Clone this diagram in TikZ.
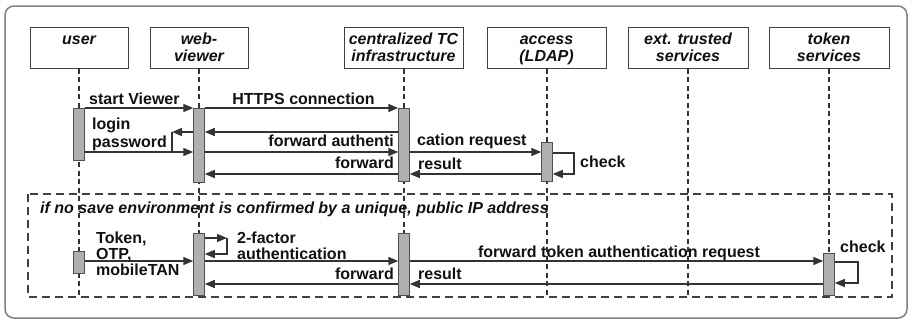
\documentclass[tikz,border=0pt]{standalone}
\usepackage{fontspec}
\setmainfont{Liberation Sans}
\usetikzlibrary{arrows.meta}
\definecolor{txt}{HTML}{111111}
\definecolor{hdrline}{HTML}{404040}
\definecolor{lifec}{HTML}{333333}
\definecolor{barline}{HTML}{505050}
\definecolor{barfill}{HTML}{B0B0B0}
\definecolor{msgc}{HTML}{333333}
\definecolor{framec}{HTML}{808080}
\begin{document}
\begin{tikzpicture}[x=1pt,y=-1pt,
  lbl/.style={font=\fontsize{16}{17}\selectfont\bfseries, text=txt, inner sep=0pt},
  hdr/.style={draw=hdrline, line width=1pt, minimum height=41pt, inner sep=0pt, fill=white},
  htxt/.style={font=\fontsize{16}{17}\selectfont\bfseries\itshape, text=txt, align=center, inner sep=0pt, anchor=north},
  life/.style={draw=lifec, line width=1.2pt, dash pattern=on 5pt off 3.5pt},
  bar/.style={draw=barline, fill=barfill, line width=1pt, minimum width=10.5pt, inner sep=0pt},
  msg/.style={draw=msgc, line width=1.5pt, -{Triangle[length=10pt,width=8pt]}},
  seg/.style={draw=msgc, line width=1.5pt},
  framedash/.style={draw=hdrline, line width=1.5pt, dash pattern=on 8pt off 5pt},
]
\useasboundingbox (0,0) rectangle (912,322);
\draw[draw=framec, line width=1.5pt, rounded corners=9pt] (5,6) rectangle (907,318);

% headers
\node[hdr, minimum width=98pt]  (user)   at (79,47.5)    {};
\node[hdr, minimum width=98pt]  (web)    at (199,47.5)   {};
\node[hdr, minimum width=119pt] (tc)     at (403.5,47.5) {};
\node[hdr, minimum width=119pt] (access) at (546.5,47.5) {};
\node[hdr, minimum width=120pt] (ext)    at (688,47.5)   {};
\node[hdr, minimum width=120pt] (token)  at (829,47.5)   {};
\node[htxt] (usert)   at (79,32)    {\strut user};
\node[htxt] (webt)    at (199,32)   {\strut web-\\\strut viewer};
\node[htxt] (tct)     at (403.5,32) {\strut centralized TC\\\strut infrastructure};
\node[htxt] (accesst) at (546.5,32) {\strut access\\\strut (LDAP)};
\node[htxt] (extt)    at (688,32)   {\strut ext. trusted\\\strut services};
\node[htxt] (tokent)  at (829,32)   {\strut token\\\strut services};

% lifelines
\foreach \n/\x in {user/79,web/199,tc/404,access/547,ext/688,token/829}{
  \draw[life] (\n.south -| \x,0) -- (\x,297);
}

% dashed frame
\draw[framedash] (28,194) rectangle (892,297);

% activation bars
\node[bar, minimum height=52pt] (ub1) at (79,134)   {};
\node[bar, minimum height=74pt] (wb1) at (199,145)  {};
\node[bar, minimum height=73pt] (tb1) at (404,144.5){};
\node[bar, minimum height=39pt] (ab1) at (547,161.5){};
\node[bar, minimum height=22pt] (ub2) at (79,262)   {};
\node[bar, minimum height=62pt] (wb2) at (199,264)  {};
\node[bar, minimum height=62pt] (tb2) at (404,264)  {};
\node[bar, minimum height=42pt] (kb)  at (829,274)  {};

% messages, upper part
\draw[msg] (ub1.east |- 0,108) -- (wb1.west |- 0,108);
\draw[msg] (wb1.east |- 0,108) -- (tb1.west |- 0,108);
\draw[msg] (tb1.west |- 0,132) -- (wb1.east |- 0,132);
\coordinate (lp) at (172,132);
\coordinate (lq) at (172,152);
\draw[msg] (wb1.west |- lp) -- (lp);
\draw[seg] (lp) -- (lq);
\draw[msg] (ub1.east |- lq) -- (wb1.west |- lq);
\draw[msg] (wb1.east |- 0,152) -- (tb1.west |- 0,152);
\draw[msg] (tb1.east |- 0,152) -- (ab1.west |- 0,152);
\coordinate (ac1) at (574,153);
\coordinate (ac2) at (574,174);
\draw[msg] (ab1.east |- ac1) -- (ac1) -- (ac2) -- (ab1.east |- ac2);
\draw[msg] (ab1.west |- 0,174) -- (tb1.east |- 0,174);
\draw[msg] (tb1.west |- 0,174) -- (wb1.east |- 0,174);

% messages, lower part
\coordinate (wc1) at (227,238);
\coordinate (wc2) at (227,254);
\draw[msg] (wb2.east |- wc1) -- (wc1);
\draw[msg] (wc1) -- (wc2) -- (wb2.east |- wc2);
\draw[msg] (ub2.east |- 0,261) -- (wb2.west |- 0,261);
\draw[msg] (wb2.east |- 0,261) -- (tb2.west |- 0,261);
\draw[msg] (tb2.east |- 0,261) -- (kb.west |- 0,261);
\coordinate (kc1) at (858,262);
\coordinate (kc2) at (858,283);
\draw[msg] (kb.east |- kc1) -- (kc1) -- (kc2) -- (kb.east |- kc2);
\draw[msg] (kb.west |- 0,284) -- (tb2.east |- 0,284);
\draw[msg] (tb2.west |- 0,284) -- (wb2.east |- 0,284);

% labels
\node[lbl, anchor=base west] (l1)  at (89,104)   {start Viewer};
\node[lbl, anchor=base]      (l2)  at (303.5,104){HTTPS connection};
\node[lbl, anchor=base west] (l3)  at (92,129)   {login};
\node[lbl, anchor=base west] (l4)  at (92,147)   {password};
\node[lbl, anchor=base east] (l5)  at (394,146)  {forward authenti};
\node[lbl, anchor=base west] (l6)  at (417,145)  {cation request};
\node[lbl, anchor=base east] (l7)  at (394,168)  {forward};
\node[lbl, anchor=base west] (l8)  at (418,169)  {result};
\node[lbl, anchor=base west] (l9)  at (580,167)  {check};
\node[lbl, font=\fontsize{16}{17}\selectfont\bfseries\itshape, anchor=base west] (l10) at (40,213)
  {if no save environment is confirmed by a unique, public IP address};
\node[lbl, anchor=base west] (l11) at (96,243)   {Token,};
\node[lbl, anchor=base west] (l12) at (96,259)   {OTP,};
\node[lbl, anchor=base west] (l13) at (96,275)   {mobileTAN};
\node[lbl, anchor=base west] (l14) at (237,243)  {2-factor};
\node[lbl, anchor=base west] (l15) at (237,259)  {authentication};
\node[lbl, anchor=base]      (l16) at (619,257)  {forward token authentication request};
\node[lbl, anchor=base west] (l17) at (840,252)  {check};
\node[lbl, anchor=base east] (l18) at (394,279)  {forward};
\node[lbl, anchor=base west] (l19) at (418,279)  {result};
\end{tikzpicture}
\end{document}
